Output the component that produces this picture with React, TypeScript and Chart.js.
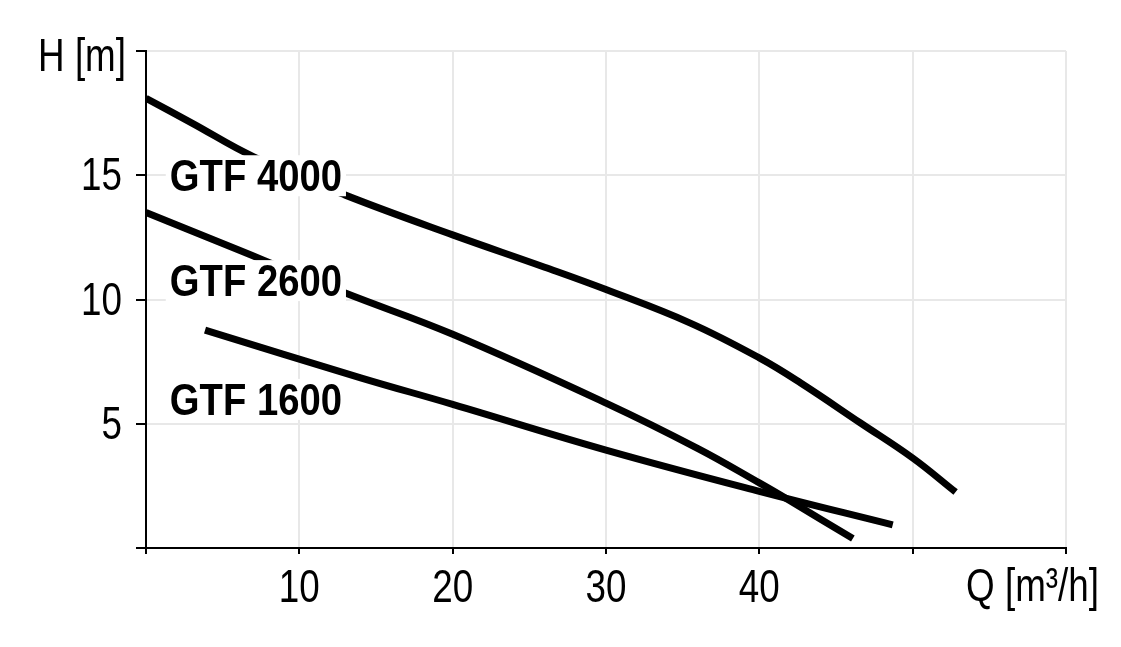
import React, { useEffect, useRef } from "react";
import { Chart, registerables } from "chart.js";

Chart.register(...registerables);

// Flow Q [m³/h] and head H [m]
const q4000 = [0, 3, 7, 13, 20, 26, 30, 35.5, 40, 42.7, 46.6, 50, 52.8];
const h4000 = [18.1, 17.1, 15.75, 14.2, 12.6, 11.3, 10.4, 9.05, 7.65, 6.64, 5.03, 3.62, 2.25];

const q2600 = [0, 5, 13, 20, 30, 36, 40, 42, 46.1];
const h2600 = [13.5, 12.25, 10.26, 8.6, 5.83, 4.0, 2.62, 1.9, 0.38];

const q1600 = [3.85, 14, 20, 30, 40, 48.7];
const h1600 = [8.77, 6.85, 5.78, 3.94, 2.28, 0.93];

const seriesNames = ["GTF 4000", "GTF 2600", "GTF 1600"];
const labelQ = [1.55, 1.55, 1.55];
const labelH = [15.0, 10.78, 6.0];

const xTickLabels: Record<number, string> = { 10: "10", 20: "20", 30: "30", 40: "40" };
const yTickLabels: Record<number, string> = { 5: "5", 10: "10", 15: "15", 20: "H [m]" };
const xTitle = "Q [m³/h]";

const FONT = "'Liberation Sans', Arial, sans-serif";
const SX = 0.8; // horizontal condensing of the text

const toPts = (qs: number[], hs: number[]) => qs.map((q, i) => ({ x: q, y: hs[i] }));

function drawText(ctx: CanvasRenderingContext2D, text: string, x: number, y: number, align: CanvasTextAlign, sx: number) {
  ctx.save();
  ctx.translate(x, y);
  ctx.scale(sx, 1);
  ctx.textAlign = align;
  ctx.textBaseline = "alphabetic";
  ctx.fillText(text, 0, 0);
  ctx.restore();
}

const textPlugin = {
  id: "textPlugin",
  afterDatasetsDraw(chart: any) {
    const { ctx, scales, chartArea } = chart;
    ctx.save();
    // curve labels with white backing
    ctx.font = `bold 45px ${FONT}`;
    const lsx = 0.85;
    seriesNames.forEach((name, i) => {
      const x = scales.x.getPixelForValue(labelQ[i]);
      const yc = scales.y.getPixelForValue(labelH[i]);
      const w = ctx.measureText(name).width * lsx;
      const cap = 32;
      const base = yc + cap / 2;
      ctx.fillStyle = "#ffffff";
      ctx.fillRect(x - 4, base - cap - 4, w + 8, cap + 9);
      ctx.fillStyle = "#000000";
      drawText(ctx, name, x, base, "left", lsx);
    });
    // tick labels
    ctx.font = `46px ${FONT}`;
    ctx.fillStyle = "#000000";
    Object.keys(xTickLabels).forEach((k) => {
      const v = Number(k);
      drawText(ctx, xTickLabels[v], scales.x.getPixelForValue(v), chartArea.bottom + 54, "center", SX);
    });
    Object.keys(yTickLabels).forEach((k) => {
      const v = Number(k);
      const y = scales.y.getPixelForValue(v);
      if (v === 20) {
        drawText(ctx, yTickLabels[v], chartArea.left - 20, y + 20, "right", SX);
      } else {
        drawText(ctx, yTickLabels[v], chartArea.left - 24, y + 15, "right", SX);
      }
    });
    drawText(ctx, xTitle, chartArea.right + 33, chartArea.bottom + 53, "right", SX);
    ctx.restore();
  },
};

export default function App() {
  const ref = useRef<HTMLCanvasElement>(null);
  useEffect(() => {
    if (!ref.current) return;
    const lineStyle = {
      borderColor: "#000000",
      borderWidth: 7,
      pointRadius: 0,
      showLine: true,
      fill: false,
      tension: 0.4,
      borderCapStyle: "butt" as const,
    };
    const chart = new Chart(ref.current, {
      type: "scatter",
      data: {
        datasets: [
          { label: seriesNames[0], data: toPts(q4000, h4000), ...lineStyle },
          { label: seriesNames[1], data: toPts(q2600, h2600), ...lineStyle },
          { label: seriesNames[2], data: toPts(q1600, h1600), ...lineStyle },
        ],
      },
      options: {
        animation: false,
        responsive: false,
        layout: { padding: { top: 51, right: 55, left: 0, bottom: 0 } },
        plugins: { legend: { display: false }, tooltip: { enabled: false } },
        scales: {
          x: {
            type: "linear",
            min: 0,
            max: 60,
            afterFit: (s: any) => {
              s.height = 99;
            },
            ticks: { stepSize: 10, display: false },
            grid: { color: "#e8e8e8", lineWidth: 2, tickColor: "#000", tickLength: 6, tickWidth: 2 },
            border: { color: "#000", width: 2 },
          },
          y: {
            type: "linear",
            min: 0,
            max: 20,
            afterFit: (s: any) => {
              s.width = 146;
            },
            ticks: { stepSize: 5, display: false },
            grid: { color: "#e8e8e8", lineWidth: 2, tickColor: "#000", tickLength: 10, tickWidth: 2 },
            border: { color: "#000", width: 2 },
          },
        },
      },
      plugins: [textPlugin],
    });
    return () => chart.destroy();
  }, []);
  return (
    <div style={{ position: "absolute", left: 0, top: 0, width: 1121, height: 647, background: "#fff" }}>
      <canvas ref={ref} width={1121} height={647} />
    </div>
  );
}
